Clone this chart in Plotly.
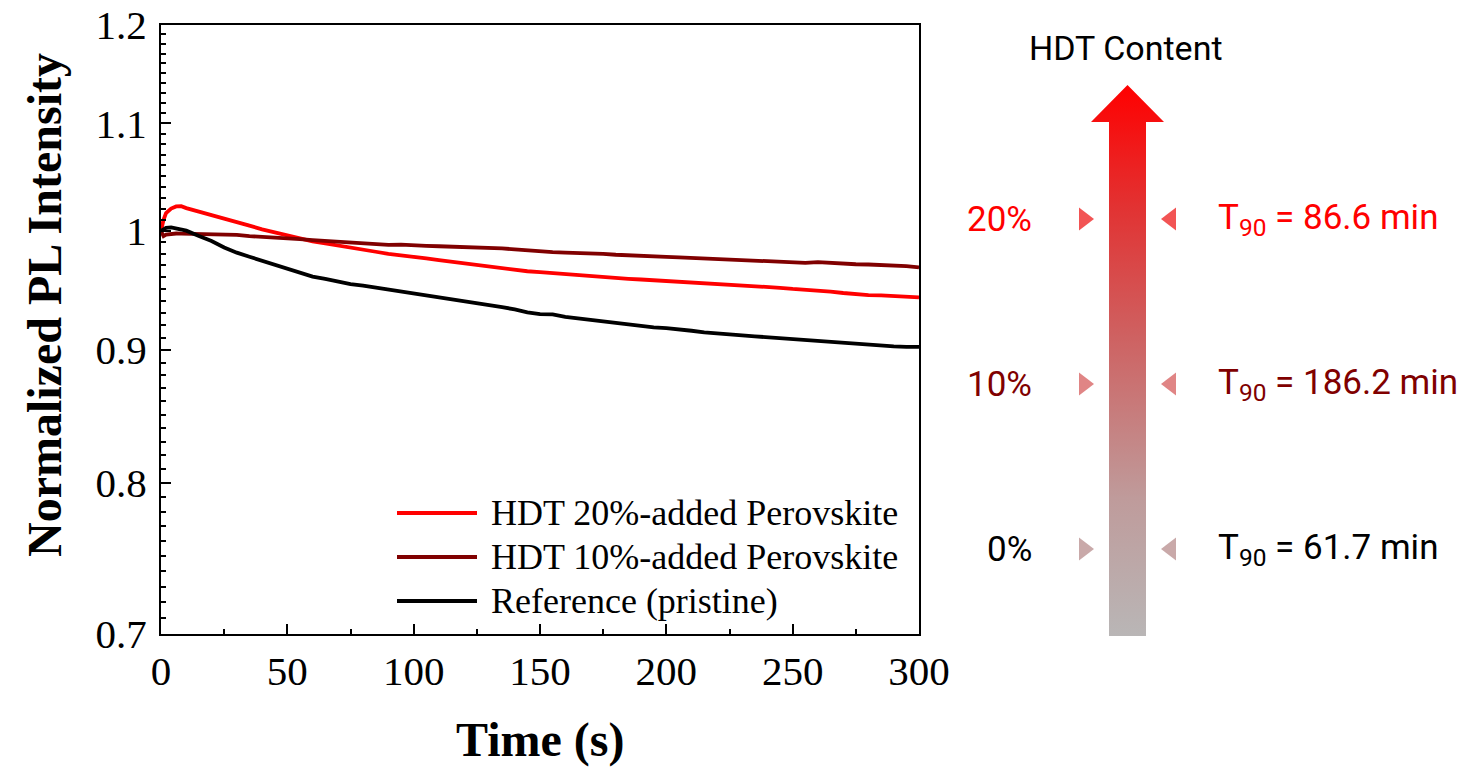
import math
import plotly.graph_objects as go

W, H = 1476, 769

# ---------------- data ----------------
time_s = [0, 1, 2, 4, 6, 8, 10, 15, 20, 25, 30, 35, 40, 45, 50, 55, 60, 65, 70, 75,
          80, 85, 90, 95, 100, 105, 110, 115, 120, 125, 130, 135, 140, 145, 150,
          155, 160, 165, 170, 175, 180, 185, 190, 195, 200, 205, 210, 215, 220,
          225, 230, 235, 240, 245, 250, 255, 260, 265, 270, 275, 280, 285, 290,
          295, 300]

pl_hdt20 = [1.000, 1.010, 1.016, 1.020, 1.022, 1.0222, 1.0205, 1.0175, 1.0145, 1.0112,
            1.0082, 1.0048, 1.0015, 0.9988, 0.9960, 0.9932, 0.9908, 0.9891, 0.9872,
            0.9848, 0.9830, 0.9818, 0.9800, 0.9789, 0.9776, 0.9760, 0.9745, 0.9731,
            0.9712, 0.9700, 0.9684, 0.9672, 0.9660, 0.9650, 0.9642, 0.9633, 0.9625,
            0.9615, 0.9608, 0.9602, 0.9594, 0.9586, 0.9580, 0.9574, 0.9566, 0.9560,
            0.9556, 0.9546, 0.9540, 0.9533, 0.9530, 0.9522, 0.9516, 0.9510, 0.9500,
            0.9494, 0.9488, 0.9478, 0.9466, 0.9455, 0.9448, 0.9446, 0.9440, 0.9436,
            0.9430]

pl_hdt10 = [1.000, 0.9955, 0.9968, 0.9975, 0.9978, 0.9976, 0.9975, 0.9978, 0.9974,
            0.9970, 0.9965, 0.9955, 0.9950, 0.9945, 0.9937, 0.9928, 0.9920, 0.9913,
            0.9905, 0.9893, 0.9888, 0.9880, 0.9878, 0.9880, 0.9872, 0.9870, 0.9866,
            0.9864, 0.9858, 0.9855, 0.9852, 0.9848, 0.9838, 0.9828, 0.9822, 0.9815,
            0.9810, 0.9808, 0.9805, 0.9800, 0.9792, 0.9786, 0.9780, 0.9772, 0.9774,
            0.9770, 0.9765, 0.9760, 0.9752, 0.9745, 0.9742, 0.9740, 0.9738, 0.9730,
            0.9725, 0.9722, 0.9728, 0.9720, 0.9712, 0.9710, 0.9708, 0.9706, 0.9700,
            0.9694, 0.9683]

pl_ref = [1.000, 1.0015, 1.0028, 1.0032, 1.0025, 1.0015, 1.0003, 0.9955, 0.9912,
          0.9855, 0.9810, 0.9775, 0.9740, 0.9703, 0.9675, 0.9635, 0.9605, 0.9585,
          0.9560, 0.9540, 0.9528, 0.9512, 0.9490, 0.9478, 0.9462, 0.9450, 0.9432,
          0.9418, 0.9398, 0.9383, 0.9365, 0.9348, 0.9330, 0.9305, 0.9290, 0.9288,
          0.9268, 0.9255, 0.9245, 0.9232, 0.9220, 0.9208, 0.9195, 0.9183, 0.9176,
          0.9168, 0.9155, 0.9142, 0.9132, 0.9122, 0.9118, 0.9110, 0.9102, 0.9095,
          0.9088, 0.9082, 0.9075, 0.9068, 0.9060, 0.9048, 0.9040, 0.9032, 0.9030,
          0.9026, 0.9025]

series_names = ["HDT 20%-added Perovskite", "HDT 10%-added Perovskite",
                "Reference (pristine)"]
series_values = [pl_hdt20, pl_hdt10, pl_ref]
series_colors = ["#FF0000", "#800000", "#000000"]

y_tick_vals = [0.7, 0.8, 0.9, 1.0, 1.1, 1.2]
y_tick_text = ["0.7", "0.8", "0.9", "1", "1.1", "1.2"]

content_labels = ["20%", "10%", "0%"]
t90_minutes = [86.6, 186.2, 61.7]
content_colors = ["#FF0000", "#800000", "#000000"]
marker_colors = ["#F25454", "#E08585", "#C9A9A9"]

# ---------------- layout helpers ----------------
PLOT_L, PLOT_R, PLOT_T, PLOT_B = 161, 919, 25, 634


def px_x(x):
    return x / W


def px_y(y):
    return 1 - y / H


SERIF = "Liberation Serif, Times New Roman, serif"
SANS = "Roboto, Noto Sans, sans-serif"

fig = go.Figure()

for name, vals, col in zip(series_names, series_values, series_colors):
    fig.add_trace(go.Scatter(x=time_s, y=vals, mode="lines", name=name,
                             line=dict(color=col, width=3.8),
                             showlegend=False, xaxis="x", yaxis="y"))

# gradient arrow (pixel-space overlay axes, y measured upward)
shaft_l, shaft_r, head_l, head_r = 1109, 1146, 1091, 1164
tip_y, head_base_y, shaft_bottom = 85, 122, 636
tip_x = (shaft_l + shaft_r) / 2
arrow_x = [shaft_l, shaft_l, head_l, tip_x, head_r, shaft_r, shaft_r, shaft_l]
arrow_y = [H - shaft_bottom, H - head_base_y, H - head_base_y, H - tip_y,
           H - head_base_y, H - head_base_y, H - shaft_bottom, H - shaft_bottom]
fig.add_trace(go.Scatter(
    x=arrow_x, y=arrow_y, mode="lines", fill="toself", line=dict(width=0),
    fillgradient=dict(type="vertical",
                      colorscale=[[0, "#B9B6B6"], [0.25, "#BF9B9B"],
                                  [0.54, "#CE6262"], [0.78, "#E23232"],
                                  [1, "#FF0000"]]),
    showlegend=False, hoverinfo="skip", xaxis="x2", yaxis="y2"))

row_y = [219, 384, 549]
for ry, mc in zip(row_y, marker_colors):
    fig.add_trace(go.Scatter(x=[1084], y=[H - ry], mode="markers",
                             marker=dict(symbol="triangle-right", size=20, color=mc),
                             showlegend=False, hoverinfo="skip", xaxis="x2", yaxis="y2"))
    fig.add_trace(go.Scatter(x=[1171], y=[H - ry], mode="markers",
                             marker=dict(symbol="triangle-left", size=20, color=mc),
                             showlegend=False, hoverinfo="skip", xaxis="x2", yaxis="y2"))

annotations = []
for ry, lab, t90, col in zip(row_y, content_labels, t90_minutes, content_colors):
    annotations.append(dict(x=1034, y=H - ry, xref="x2", yref="y2", text=lab,
                            showarrow=False, xanchor="right", yanchor="middle",
                            font=dict(family=SANS, size=35, color=col)))
    annotations.append(dict(x=1216, y=H - ry, xref="x2", yref="y2",
                            text=f"T<sub>90</sub> = {t90} min",
                            showarrow=False, xanchor="left", yanchor="middle",
                            font=dict(family=SANS, size=35, color=col)))

annotations.append(dict(x=1126, y=H - 48, xref="x2", yref="y2", text="HDT Content",
                        showarrow=False, xanchor="center", yanchor="middle",
                        font=dict(family=SANS, size=34, color="#000000")))

# axis titles
annotations.append(dict(x=px_x((PLOT_L + PLOT_R) / 2), y=px_y(740), xref="paper",
                        yref="paper", text="<b>Time (s)</b>", showarrow=False,
                        xanchor="center", yanchor="middle",
                        font=dict(family=SERIF, size=48, color="#000000")))
annotations.append(dict(x=px_x(44), y=px_y(305), xref="paper", yref="paper",
                        text="<b>Normalized PL Intensity</b>", showarrow=False,
                        textangle=-90, xanchor="center", yanchor="middle",
                        font=dict(family=SERIF, size=48, color="#000000")))

# legend drawn inside the plot
shapes = []
leg_rows = [513, 557, 601]
for ly, name, col in zip(leg_rows, series_names, series_colors):
    shapes.append(dict(type="line", xref="paper", yref="paper",
                       x0=px_x(397), x1=px_x(477), y0=px_y(ly), y1=px_y(ly),
                       line=dict(color=col, width=3.8)))
    annotations.append(dict(x=px_x(489), y=px_y(ly), xref="paper", yref="paper",
                            text=name, showarrow=False, xanchor="left",
                            yanchor="middle",
                            font=dict(family=SERIF, size=36, color="#000000")))

minor_y = [round(0.7 + 0.01 * i, 2) for i in range(1, 50) if i % 10 != 0]

fig.update_layout(
    template="none",
    width=W, height=H, autosize=False,
    margin=dict(l=0, r=0, t=0, b=0, pad=0),
    paper_bgcolor="white", plot_bgcolor="rgba(0,0,0,0)",
    showlegend=False,
    xaxis=dict(domain=[px_x(PLOT_L), px_x(PLOT_R)], range=[0, 300],
               tickmode="linear", tick0=0, dtick=50, ticks="inside", ticklen=10,
               tickwidth=2, tickcolor="black", showline=True, linecolor="black",
               linewidth=2, mirror=True, showgrid=False, zeroline=False,
               automargin=False,
               tickfont=dict(family=SERIF, size=41, color="black"),
               ticklabelstandoff=0,
               minor=dict(ticks="inside", ticklen=5, tickwidth=2, dtick=25,
                          tick0=0, tickcolor="black", showgrid=False),
               anchor="y"),
    yaxis=dict(domain=[px_y(PLOT_B), px_y(PLOT_T)], type="log",
               range=[math.log10(0.7), math.log10(1.2)],
               tickmode="array", tickvals=y_tick_vals, ticktext=y_tick_text,
               ticks="inside", ticklen=10, tickwidth=2, tickcolor="black",
               showline=True, linecolor="black", linewidth=2, mirror=True,
               showgrid=False, zeroline=False, automargin=False,
               tickfont=dict(family=SERIF, size=41, color="black"),
               ticklabelstandoff=4,
               minor=dict(ticks="inside", ticklen=5, tickwidth=2,
                          tickmode="array", tickvals=minor_y,
                          tickcolor="black", showgrid=False),
               anchor="x"),
    xaxis2=dict(domain=[0, 1], range=[0, W], visible=False, anchor="y2",
                fixedrange=True, automargin=False),
    yaxis2=dict(domain=[0, 1], range=[0, H], visible=False, anchor="x2",
                fixedrange=True, automargin=False),
    annotations=annotations,
    shapes=shapes,
)

fig.write_html("out.html")
